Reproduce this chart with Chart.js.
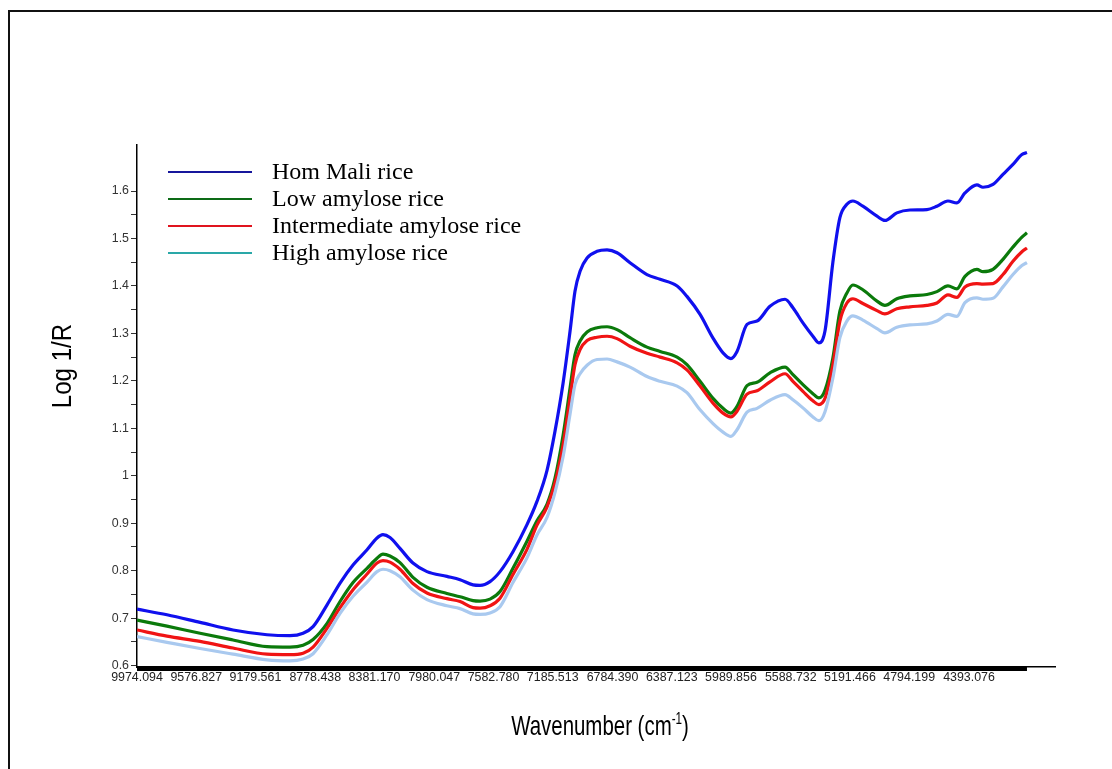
<!DOCTYPE html>
<html>
<head>
<meta charset="utf-8">
<title>NIR spectra of rice</title>
<script src="https://cdn.jsdelivr.net/npm/chart.js@4.4.1/dist/chart.umd.min.js"></script>
<style>
    html, body { margin: 0; padding: 0; background: #fff; }
    #wrap { width: 1112px; height: 769px; }
</style>
</head>
<body>
<div id="wrap"><canvas id="spectra" width="1112" height="769"></canvas></div>
<script>
const wavenumbers = [
    9974, 9773, 9551, 9330, 9102, 8948, 8860, 8793, 8699, 8612,
    8525, 8431, 8364, 8324, 8277, 8210, 8123, 8029, 7895, 7807,
    7720, 7673, 7606, 7539, 7452, 7358, 7291, 7224, 7170, 7116,
    7069, 7036, 7002, 6955, 6888, 6821, 6754, 6667, 6553, 6465,
    6351, 6285, 6197, 6110, 6043, 5990, 5949, 5882, 5815, 5728,
    5627, 5574, 5507, 5440, 5400, 5359, 5306, 5259, 5212, 5172,
    5105, 5010, 4957, 4877, 4789, 4675, 4608, 4534, 4474, 4420,
    4340, 4299, 4232, 4165, 4098, 4038, 4004
];

const homMali = [
    0.719, 0.707, 0.691, 0.675, 0.665, 0.663, 0.668, 0.682, 0.728, 0.774,
    0.812, 0.844, 0.869, 0.876, 0.870, 0.847, 0.816, 0.798, 0.788, 0.781,
    0.770, 0.769, 0.777, 0.798, 0.840, 0.897, 0.946, 1.011, 1.094, 1.195,
    1.305, 1.389, 1.431, 1.459, 1.473, 1.476, 1.470, 1.449, 1.424, 1.414,
    1.400, 1.378, 1.340, 1.290, 1.259, 1.247, 1.262, 1.319, 1.326, 1.357,
    1.372, 1.354, 1.322, 1.294, 1.280, 1.305, 1.450, 1.544, 1.572, 1.579,
    1.568, 1.547, 1.538, 1.554, 1.560, 1.561, 1.568, 1.579, 1.575, 1.596,
    1.613, 1.608, 1.614, 1.635, 1.656, 1.677, 1.681
];

const lowAmylose = [
    0.696, 0.683, 0.668, 0.654, 0.640, 0.639, 0.643, 0.655, 0.689, 0.735,
    0.775, 0.805, 0.826, 0.835, 0.831, 0.817, 0.786, 0.765, 0.752, 0.745,
    0.737, 0.736, 0.740, 0.756, 0.805, 0.862, 0.905, 0.940, 0.995, 1.085,
    1.185, 1.255, 1.284, 1.303, 1.312, 1.314, 1.308, 1.291, 1.271, 1.262,
    1.250, 1.234, 1.199, 1.163, 1.142, 1.132, 1.146, 1.190, 1.197, 1.217,
    1.229, 1.213, 1.192, 1.173, 1.164, 1.180, 1.248, 1.347, 1.385, 1.402,
    1.392, 1.368, 1.359, 1.373, 1.379, 1.382, 1.388, 1.400, 1.394, 1.420,
    1.435, 1.430, 1.435, 1.456, 1.482, 1.503, 1.512
];

const intermediateAmylose = [
    0.675, 0.662, 0.651, 0.637, 0.624, 0.623, 0.626, 0.639, 0.679, 0.722,
    0.760, 0.793, 0.816, 0.821, 0.818, 0.803, 0.773, 0.753, 0.741, 0.735,
    0.722, 0.721, 0.726, 0.742, 0.792, 0.845, 0.896, 0.934, 0.985, 1.065,
    1.165, 1.234, 1.266, 1.285, 1.292, 1.294, 1.289, 1.273, 1.258, 1.250,
    1.238, 1.223, 1.189, 1.153, 1.132, 1.124, 1.136, 1.172, 1.179, 1.198,
    1.215, 1.199, 1.178, 1.158, 1.150, 1.163, 1.234, 1.326, 1.364, 1.373,
    1.363, 1.348, 1.341, 1.352, 1.356, 1.359, 1.364, 1.381, 1.376, 1.398,
    1.405, 1.404, 1.405, 1.424, 1.452, 1.472, 1.480
];

const highAmylose = [
    0.661, 0.649, 0.636, 0.624, 0.612, 0.610, 0.614, 0.625, 0.665, 0.710,
    0.746, 0.776, 0.798, 0.803, 0.800, 0.787, 0.759, 0.739, 0.726, 0.720,
    0.709, 0.708, 0.711, 0.724, 0.775, 0.827, 0.875, 0.912, 0.965, 1.040,
    1.130, 1.192, 1.215, 1.233, 1.245, 1.246, 1.240, 1.229, 1.209, 1.199,
    1.189, 1.175, 1.139, 1.110, 1.092, 1.083, 1.097, 1.134, 1.142, 1.159,
    1.171, 1.160, 1.143, 1.124, 1.116, 1.135, 1.206, 1.291, 1.326, 1.337,
    1.328, 1.310, 1.301, 1.313, 1.318, 1.320, 1.326, 1.340, 1.336, 1.365,
    1.375, 1.372, 1.374, 1.398, 1.424, 1.443, 1.449
];

const seriesNames = ['Hom Mali rice', 'Low amylose rice', 'Intermediate amylose rice', 'High amylose rice'];
const xTickLabels = [
    '9974.094', '9576.827', '9179.561', '8778.438', '8381.170', '7980.047', '7582.780',
    '7185.513', '6784.390', '6387.123', '5989.856', '5588.732', '5191.466', '4794.199', '4393.076'
];
const yTickLabels = ['0.6', '0.7', '0.8', '0.9', '1', '1.1', '1.2', '1.3', '1.4', '1.5', '1.6'];

const lineColors = ['#1010ee', '#0b7a0b', '#f01414', '#a9c9ef'];
const legendColors = ['#16169c', '#0d6b17', '#e0141e', '#2aa8a8'];
const allSeries = [homMali, lowAmylose, intermediateAmylose, highAmylose];

const toPoints = (values) => wavenumbers.map((w, i) => ({ x: w, y: values[i] }));

const titleFont = (size) => size + 'px "Liberation Sans", Arial, sans-serif';

// frame round the figure
const framePlugin = {
    id: 'frame',
    beforeDraw(chart) {
        const ctx = chart.ctx;
        ctx.save();
        ctx.fillStyle = '#fff';
        ctx.fillRect(0, 0, chart.width, chart.height);
        ctx.fillStyle = '#111';
        ctx.fillRect(8, 10, 2, chart.height - 10);
        ctx.fillRect(8, 10, chart.width - 8, 2);
        ctx.restore();
    }
};

// dense tick bar under the x axis, axis titles (condensed) and the legend
const extrasPlugin = {
    id: 'extras',
    afterDraw(chart) {
        const ctx = chart.ctx;
        const xs = chart.scales.x;
        const area = chart.chartArea;
        ctx.save();

        const x1 = xs.getPixelForValue(wavenumbers[0]);
        const x2 = xs.getPixelForValue(wavenumbers[wavenumbers.length - 1]);
        ctx.fillStyle = '#000';
        ctx.fillRect(x1, area.bottom - 0.5, x2 - x1, 4.5);

        // y title
        ctx.save();
        ctx.translate(71, 366);
        ctx.rotate(-Math.PI / 2);
        ctx.scale(0.86, 1);
        ctx.font = titleFont(28);
        ctx.textAlign = 'center';
        ctx.textBaseline = 'alphabetic';
        ctx.fillText('Log 1/R', 0, 0);
        ctx.restore();

        // x title with superscript
        ctx.save();
        const main = 'Wavenumber (cm';
        const sup = '-1';
        const close = ')';
        ctx.font = titleFont(28);
        const wMain = ctx.measureText(main).width;
        const wClose = ctx.measureText(close).width;
        ctx.font = titleFont(16);
        const wSup = ctx.measureText(sup).width;
        const total = wMain + wSup + wClose;
        ctx.translate(600, 735);
        ctx.scale(0.73, 1);
        ctx.textAlign = 'left';
        ctx.textBaseline = 'alphabetic';
        let x = -total / 2;
        ctx.font = titleFont(28);
        ctx.fillText(main, x, 0);
        x += wMain;
        ctx.font = titleFont(16);
        ctx.fillText(sup, x, -11);
        x += wSup;
        ctx.font = titleFont(28);
        ctx.fillText(close, x, 0);
        ctx.restore();

        // legend
        ctx.font = '24px "Liberation Serif", "Times New Roman", serif';
        ctx.textAlign = 'left';
        ctx.textBaseline = 'alphabetic';
        seriesNames.forEach((name, i) => {
            const y = 172 + i * 27;
            ctx.strokeStyle = legendColors[i];
            ctx.lineWidth = 2.2;
            ctx.beginPath();
            ctx.moveTo(168, y);
            ctx.lineTo(252, y);
            ctx.stroke();
            ctx.fillStyle = '#000';
            ctx.fillText(name, 272, y + 7);
        });
        ctx.restore();
    }
};

const ctx = document.getElementById('spectra').getContext('2d');
new Chart(ctx, {
    type: 'line',
    data: {
        datasets: allSeries.map((values, i) => ({
            label: seriesNames[i],
            data: toPoints(values),
            borderColor: lineColors[i],
            backgroundColor: lineColors[i],
            borderWidth: 3.2,
            pointRadius: 0,
            cubicInterpolationMode: 'monotone',
            fill: false
        })).reverse()
    },
    options: {
        responsive: false,
        animation: false,
        devicePixelRatio: 1,
        layout: { padding: { top: 145, right: 57, left: 0, bottom: 0 } },
        plugins: {
            legend: { display: false },
            tooltip: { enabled: false }
        },
        scales: {
            x: {
                type: 'linear',
                reverse: true,
                min: 3816,
                max: 9974.094,
                afterFit: (scale) => { scale.height = 102; },
                afterBuildTicks: (scale) => {
                    scale.ticks = xTickLabels.map(t => ({ value: parseFloat(t) }));
                },
                grid: { display: false, drawTicks: false },
                border: { display: true, color: '#000', width: 1.5 },
                ticks: {
                    autoSkip: false,
                    maxRotation: 0,
                    padding: 3,
                    color: '#222',
                    font: { family: '"Liberation Sans", Arial, sans-serif', size: 12.4 },
                    callback: (v) => v.toFixed(3)
                }
            },
            y: {
                min: 0.597,
                max: 1.697,
                afterFit: (scale) => { scale.width = 137; },
                afterBuildTicks: (scale) => {
                    const ticks = [];
                    yTickLabels.forEach((t, i) => {
                        ticks.push({ value: parseFloat(t) });
                        if (i < yTickLabels.length - 1) ticks.push({ value: parseFloat(t) + 0.05 });
                    });
                    scale.ticks = ticks;
                },
                grid: { drawOnChartArea: false, drawTicks: true, tickLength: 6, color: '#333', lineWidth: 1 },
                border: { display: true, color: '#000', width: 1.5 },
                ticks: {
                    padding: 2,
                    color: '#333',
                    font: { family: '"Liberation Sans", Arial, sans-serif', size: 12.4 },
                    callback: (v) => {
                        const label = yTickLabels.find(t => Math.abs(parseFloat(t) - v) < 1e-6);
                        return label || '';
                    }
                }
            }
        }
    },
    plugins: [framePlugin, extrasPlugin]
});
</script>
</body>
</html>
